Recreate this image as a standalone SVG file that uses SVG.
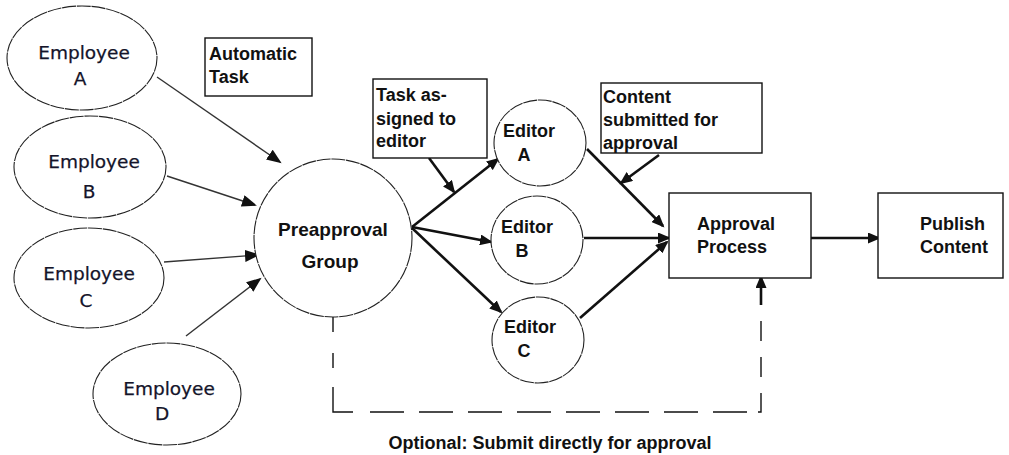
<svg xmlns="http://www.w3.org/2000/svg" width="1009" height="455" viewBox="0 0 1009 455">
<style>
.bg{fill:#fff}
.emp{fill:#fff;stroke:#222;stroke-width:1.1;stroke-dasharray:14 0.8}
.circ{fill:#fff;stroke:#222;stroke-width:1.1;stroke-dasharray:14 0.8}
.box{fill:#fff;stroke:#111;stroke-width:1.4}
.et{font-family:"DejaVu Sans",Verdana,sans-serif;font-size:18.5px;fill:#14142a;text-anchor:middle;stroke:#14142a;stroke-width:0.25}
.bt{font-family:"Liberation Sans",Arial,sans-serif;font-weight:bold;font-size:18px;fill:#111}
.thin{stroke:#333;stroke-width:1.4;fill:none;marker-end:url(#ah1)}
.thick{stroke:#111;stroke-width:2.6;fill:none;marker-end:url(#ah2)}
.dash{stroke:#111;stroke-width:1.4;fill:none}
</style>
<defs>
<marker id="ah1" markerUnits="userSpaceOnUse" markerWidth="16" markerHeight="12" refX="13" refY="6" orient="auto"><path d="M0,0 L15,6 L0,12 z" fill="#111"/></marker>
<marker id="ah2" markerUnits="userSpaceOnUse" markerWidth="14" markerHeight="11" refX="11" refY="5.5" orient="auto"><path d="M0,0 L13,5.5 L0,11 z" fill="#111"/></marker>
</defs>
<rect class="bg" x="0" y="0" width="1009" height="455"/>
<g id="connectors">
<line class="thin" x1="157" y1="77" x2="280" y2="162"/>
<line class="thin" x1="167" y1="176" x2="255" y2="205"/>
<line class="thin" x1="164" y1="262" x2="258" y2="255"/>
<line class="thin" x1="186" y1="336" x2="260" y2="279"/>
<line class="thick" x1="412" y1="227" x2="498" y2="159"/>
<line class="thick" x1="412" y1="227" x2="491" y2="242"/>
<line class="thick" x1="412" y1="228" x2="501" y2="312"/>
<line class="thick" x1="429" y1="158" x2="454" y2="192"/>
<line class="thick" x1="659" y1="155" x2="621" y2="183"/>
<line class="thick" x1="587" y1="149" x2="663" y2="226"/>
<line class="thick" x1="584" y1="238" x2="669" y2="238"/>
<line class="thick" x1="580" y1="318" x2="667" y2="242"/>
<line class="thick" x1="811" y1="238" x2="879" y2="238"/>
<path class="dash" d="M333,317 V387" stroke-dasharray="15 21"/>
<path class="dash" d="M333,387 V412 H353"/>
<path class="dash" d="M370,412 H758" stroke-dasharray="34 15"/>
<path class="dash" d="M758,412 H761 V393"/>
<path class="dash" d="M761,377 V320" stroke-dasharray="20 16"/>
<line class="thick" x1="761" y1="305" x2="761" y2="277"/>
</g>
<g id="empA"><ellipse class="emp" cx="82" cy="58" rx="75" ry="52"/><text class="et" x="84" y="59">Employee</text><text class="et" x="80" y="85">A</text></g>
<g id="empB"><ellipse class="emp" cx="90" cy="167" rx="76" ry="51"/><text class="et" x="94" y="168">Employee</text><text class="et" x="89" y="198">B</text></g>
<g id="empC"><ellipse class="emp" cx="89" cy="278" rx="75" ry="50"/><text class="et" x="89" y="280">Employee</text><text class="et" x="86" y="307">C</text></g>
<g id="empD"><ellipse class="emp" cx="167" cy="394" rx="74" ry="51"/><text class="et" x="169" y="395">Employee</text><text class="et" x="162" y="420">D</text></g>
<g id="autoTask"><rect class="box" x="205" y="38" width="107" height="58"/><text class="bt" x="209" y="60">Automatic</text><text class="bt" x="209" y="83">Task</text></g>
<g id="preapproval"><circle class="circ" cx="333" cy="238" r="79"/><text class="bt" x="333" y="236" text-anchor="middle" style="font-size:19px">Preapproval</text><text class="bt" x="330" y="268" text-anchor="middle" style="font-size:19px">Group</text></g>
<g id="taskAssigned"><rect class="box" x="373" y="79" width="114" height="79"/><text class="bt" x="376" y="101">Task as-</text><text class="bt" x="376" y="125">signed to</text><text class="bt" x="376" y="147">editor</text></g>
<g id="contentSubmitted"><rect class="box" x="601" y="83" width="161" height="70"/><text class="bt" x="603" y="103">Content</text><text class="bt" x="603" y="126">submitted for</text><text class="bt" x="603" y="149">approval</text></g>
<g id="editorA"><ellipse class="circ" cx="540" cy="143" rx="46" ry="43"/><text class="bt" x="503" y="137">Editor</text><text class="bt" x="524" y="161" text-anchor="middle">A</text></g>
<g id="editorB"><ellipse class="circ" cx="537" cy="240" rx="46" ry="44"/><text class="bt" x="501" y="233">Editor</text><text class="bt" x="522" y="257" text-anchor="middle">B</text></g>
<g id="editorC"><ellipse class="circ" cx="538" cy="340" rx="46" ry="43"/><text class="bt" x="504" y="333">Editor</text><text class="bt" x="524" y="357" text-anchor="middle">C</text></g>
<g id="approval"><rect class="box" x="669" y="193" width="142" height="85"/><text class="bt" x="697" y="230">Approval</text><text class="bt" x="697" y="253">Process</text></g>
<g id="publish"><rect class="box" x="878" y="193" width="125" height="85"/><text class="bt" x="920" y="230">Publish</text><text class="bt" x="920" y="253">Content</text></g>
<g id="optionalLabel"><text class="bt" x="550" y="449" text-anchor="middle">Optional: Submit directly for approval</text></g>
</svg>
